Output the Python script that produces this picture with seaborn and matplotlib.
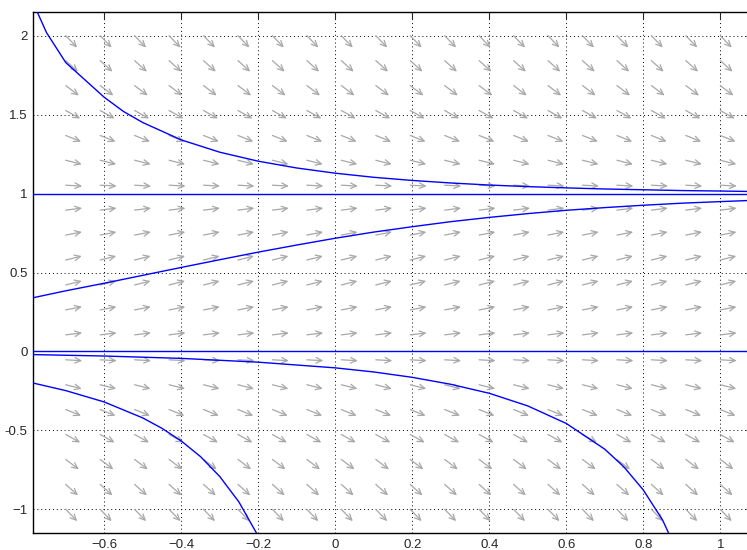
import numpy as np
import matplotlib
matplotlib.use('Agg')
import matplotlib.pyplot as plt
import seaborn as sns

# slope field grid (tails of the arrows)
x_cols = [-0.7, -0.6105, -0.5211, -0.4316, -0.3421, -0.2526, -0.1632, -0.0737, 0.0158, 0.1053,
          0.1947, 0.2842, 0.3737, 0.4632, 0.5526, 0.6421, 0.7316, 0.8211, 0.9105, 1.0]
y_rows = [-1.0, -0.842, -0.684, -0.526, -0.368, -0.211, -0.053, 0.105, 0.263, 0.421,
          0.579, 0.737, 0.895, 1.053, 1.211, 1.368, 1.526, 1.684, 1.842, 2.0]
# slope dy/dx of the arrows in each row
row_slopes = [-2.52, -2.19, -1.84, -1.35, -0.98, -0.61, -0.13, 0.3, 0.47, 0.61,
              0.61, 0.47, 0.3, -0.13, -0.61, -0.98, -1.35, -1.84, -2.19, -2.52]

# solution curves
upper_x = [-0.785, -0.75, -0.7, -0.65, -0.6, -0.55, -0.5, -0.4, -0.3, -0.2, -0.1, 0.0,
           0.1, 0.2, 0.3, 0.4, 0.5, 0.6, 0.7, 0.8, 0.9, 1.0, 1.085]
upper_y = [2.21, 2.02, 1.83, 1.72, 1.61, 1.52, 1.45, 1.34, 1.262, 1.205, 1.162, 1.129,
           1.103, 1.083, 1.067, 1.054, 1.044, 1.036, 1.029, 1.024, 1.019, 1.016, 1.013]
mid_x = [-0.785, -0.7, -0.6, -0.5, -0.4, -0.3, -0.2, -0.1, 0.0, 0.1, 0.2, 0.3, 0.4,
         0.5, 0.6, 0.7, 0.8, 0.9, 1.0, 1.085]
mid_y = [0.34, 0.384, 0.432, 0.482, 0.532, 0.581, 0.629, 0.674, 0.717, 0.756, 0.79,
         0.822, 0.849, 0.873, 0.894, 0.911, 0.926, 0.939, 0.949, 0.957]
low1_x = [-0.785, -0.6, -0.4, -0.2, 0.0, 0.1, 0.2, 0.3, 0.4, 0.5, 0.6, 0.7, 0.75,
          0.8, 0.85, 0.9]
low1_y = [-0.02, -0.029, -0.044, -0.068, -0.104, -0.13, -0.164, -0.208, -0.265,
          -0.345, -0.456, -0.619, -0.732, -0.877, -1.067, -1.33]
low2_x = [-0.785, -0.7, -0.6, -0.5, -0.45, -0.4, -0.35, -0.3, -0.25, -0.2, -0.15]
low2_y = [-0.2, -0.248, -0.32, -0.421, -0.487, -0.567, -0.666, -0.792, -0.954, -1.17, -1.48]
equilibria = [0.0, 1.0]

x_ticks = [-0.6, -0.4, -0.2, 0, 0.2, 0.4, 0.6, 0.8, 1]
x_labels = ['\u22120.6', '\u22120.4', '\u22120.2', '0', '0.2', '0.4', '0.6', '0.8', '1']
y_ticks = [-1, -0.5, 0, 0.5, 1, 1.5, 2]
y_labels = ['\u22121', '-0.5', '0', '0.5', '1', '1.5', '2']

sns.set_style('white')
plt.rcParams['font.family'] = ['Liberation Sans', 'DejaVu Sans']

fig = plt.figure(figsize=(7.47, 5.5), dpi=100)
ax = fig.add_axes([33 / 747, 17 / 550, 720 / 747, 521 / 550])
xlim = (-0.785, 1.085)
ylim = (-1.15, 2.15)
ax.set_xlim(*xlim)
ax.set_ylim(*ylim)

# arrows of constant screen length, open heads
bb = ax.get_window_extent()
sx = bb.width / (xlim[1] - xlim[0])
sy = bb.height / (ylim[1] - ylim[0])
arrow_px = 16.5
for yv, s in zip(y_rows, row_slopes):
    th = np.arctan2(s * sy, sx)
    dx = arrow_px * np.cos(th) / sx
    dy = arrow_px * np.sin(th) / sy
    for xv in x_cols:
        ax.annotate('', xy=(xv + dx, yv + dy), xytext=(xv, yv),
                    arrowprops=dict(arrowstyle='->,head_length=0.42,head_width=0.2',
                                    color='0.66', lw=0.9, shrinkA=0, shrinkB=0),
                    zorder=2)

xr = [xlim[0], xlim[1]]
for e in equilibria:
    sns.lineplot(x=xr, y=[e, e], color='#0000ff', lw=1.0, ax=ax, zorder=3)
for cx, cy in [(upper_x, upper_y), (mid_x, mid_y), (low1_x, low1_y), (low2_x, low2_y)]:
    sns.lineplot(x=cx, y=cy, sort=False, estimator=None, color='#0000ff', lw=1.0,
                 ax=ax, zorder=3)

ax.set_xlim(*xlim)
ax.set_ylim(*ylim)
ax.set_xticks(x_ticks)
ax.set_xticklabels(x_labels)
ax.set_yticks(y_ticks)
ax.set_yticklabels(y_labels)
ax.grid(True, color='black', linestyle=(0, (1, 3)), linewidth=0.7)
ax.tick_params(direction='in', length=5, width=0.8, top=True, right=True,
               labelsize=9.5, pad=4)
for sp in ax.spines.values():
    sp.set_color('black')
    sp.set_linewidth(1.0)

fig.savefig('out.png', dpi=100)
